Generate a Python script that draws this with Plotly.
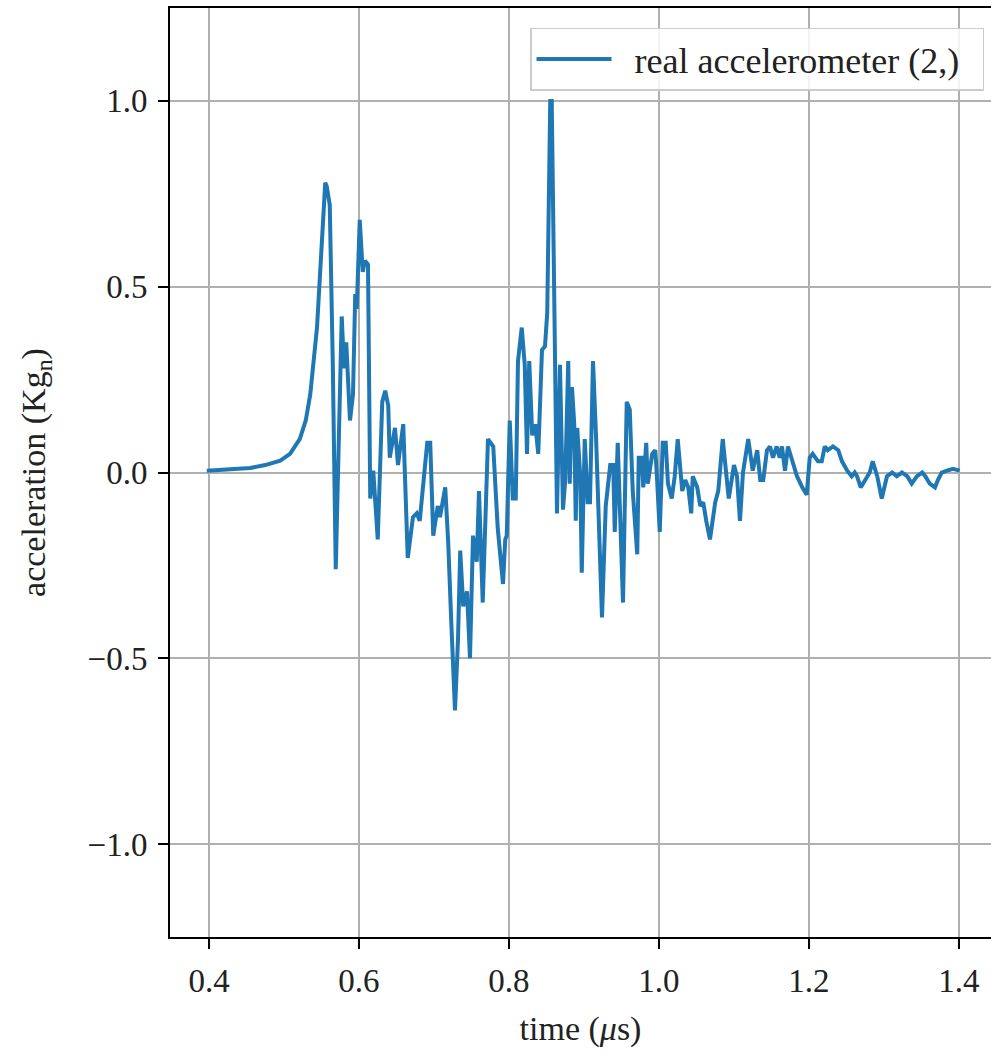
import plotly.graph_objects as go

# time (µs) and acceleration (Kg_n)
time_us = [
    0.397, 0.428, 0.455, 0.475, 0.495, 0.508, 0.521, 0.529, 0.535, 0.544,
    0.551, 0.555, 0.557, 0.561, 0.565, 0.569, 0.577, 0.580, 0.583, 0.588,
    0.592, 0.595, 0.597, 0.601, 0.605, 0.608, 0.612, 0.615, 0.619, 0.623,
    0.625, 0.631, 0.635, 0.639, 0.641, 0.648, 0.652, 0.659, 0.665, 0.672,
    0.677, 0.681, 0.691, 0.695, 0.699, 0.705, 0.708, 0.715, 0.719, 0.723,
    0.728, 0.732, 0.735, 0.739, 0.744, 0.748, 0.752, 0.757, 0.760, 0.765,
    0.772, 0.779, 0.785, 0.792, 0.795, 0.797, 0.801, 0.805, 0.809, 0.812,
    0.817, 0.821, 0.824, 0.827, 0.831, 0.835, 0.839, 0.844, 0.848, 0.851,
    0.855, 0.857, 0.860, 0.864, 0.868, 0.872, 0.875, 0.879, 0.881, 0.884,
    0.887, 0.889, 0.891, 0.895, 0.897, 0.901, 0.905, 0.908, 0.912, 0.916,
    0.924, 0.929, 0.935, 0.939, 0.941, 0.945, 0.952, 0.957, 0.961, 0.965,
    0.971, 0.973, 0.977, 0.979, 0.983, 0.985, 0.991, 0.995, 0.997, 1.001,
    1.005, 1.009, 1.012, 1.017, 1.021, 1.025, 1.031, 1.035, 1.039, 1.043,
    1.045, 1.051, 1.055, 1.059, 1.063, 1.068, 1.075, 1.079, 1.085, 1.091,
    1.093, 1.100, 1.104, 1.108, 1.112, 1.119, 1.125, 1.131, 1.135, 1.139,
    1.144, 1.148, 1.152, 1.157, 1.161, 1.164, 1.168, 1.172, 1.177, 1.184,
    1.191, 1.197, 1.201, 1.205, 1.212, 1.217, 1.221, 1.225, 1.232, 1.239,
    1.244, 1.251, 1.257, 1.261, 1.264, 1.269, 1.275, 1.281, 1.285, 1.291,
    1.297, 1.304, 1.311, 1.317, 1.324, 1.331, 1.337, 1.344, 1.351, 1.355,
    1.361, 1.368, 1.372, 1.377, 1.384, 1.392, 1.401,
]
accel = [
    0.005, 0.008, 0.012, 0.020, 0.032, 0.050, 0.090, 0.140, 0.210, 0.390,
    0.660, 0.780, 0.770, 0.720, 0.300, -0.260, 0.420, 0.280, 0.350, 0.140,
    0.210, 0.480, 0.440, 0.680, 0.540, 0.570, 0.560, -0.070, 0.005, -0.100,
    -0.180, 0.190, 0.220, 0.180, 0.040, 0.120, 0.020, 0.130, -0.230, -0.120,
    -0.110, -0.130, 0.080, 0.080, -0.170, -0.090, -0.120, -0.040, -0.190, -0.400,
    -0.640, -0.450, -0.210, -0.360, -0.320, -0.500, -0.170, -0.240, -0.050, -0.350,
    0.090, 0.070, -0.150, -0.300, -0.180, -0.170, 0.140, -0.070, -0.070, 0.300,
    0.390, 0.290, 0.050, 0.300, 0.100, 0.130, 0.050, 0.330, 0.340, 0.430,
    1.000, 1.000, 0.550, -0.110, 0.290, -0.100, -0.020, 0.300, -0.030, 0.230,
    0.130, -0.130, 0.120, -0.010, -0.270, 0.090, -0.080, -0.080, 0.300, 0.100,
    -0.390, -0.090, 0.020, 0.020, -0.160, 0.080, -0.350, 0.190, 0.170, -0.050,
    -0.220, 0.040, 0.040, -0.040, 0.080, -0.030, 0.050, 0.060, 0.000, -0.160,
    0.080, 0.080, -0.030, -0.070, -0.010, 0.090, -0.050, -0.020, -0.040, -0.110,
    -0.010, -0.040, -0.090, -0.080, -0.130, -0.180, -0.080, -0.050, 0.090, -0.030,
    -0.070, 0.020, -0.010, -0.130, 0.000, 0.090, 0.005, 0.060, -0.020, -0.020,
    0.060, 0.070, 0.040, 0.070, 0.040, 0.070, 0.005, 0.070, 0.040, -0.010,
    -0.040, -0.060, 0.040, 0.050, 0.030, 0.030, 0.070, 0.060, 0.070, 0.060,
    0.030, 0.005, -0.010, 0.000, -0.010, -0.040, -0.020, 0.000, 0.030, -0.010,
    -0.070, -0.010, 0.000, -0.010, 0.000, -0.010, -0.030, -0.010, 0.000, -0.010,
    -0.030, -0.040, -0.020, 0.000, 0.005, 0.010, 0.005,
]

x_ticks = [0.4, 0.6, 0.8, 1.0, 1.2, 1.4]
y_ticks = [-1.0, -0.5, 0.0, 0.5, 1.0]

FONT = "Liberation Serif, Times New Roman, serif"
NB = "\u00a0"

fig = go.Figure()
fig.add_trace(go.Scatter(
    x=time_us, y=accel, mode="lines",
    name=NB * 2 + "real accelerometer (2,)" + NB * 2,
    line=dict(color="#1f77b4", width=4),
))

axis_common = dict(
    showgrid=True, gridcolor="#b0b0b0", gridwidth=1.5,
    showline=True, linecolor="black", linewidth=2,
    ticks="outside", ticklen=10, tickwidth=1.5, tickcolor="black",
    tickfont=dict(family=FONT, size=33, color="#222"),
    zeroline=False, automargin=False,
)

fig.update_layout(
    width=991, height=1057,
    margin=dict(l=170, r=0, t=8, b=120),
    paper_bgcolor="white", plot_bgcolor="white",
    font=dict(family=FONT, size=33, color="#222"),
    xaxis=dict(range=[0.348, 1.4427], tickvals=x_ticks, tickformat=".1f",
               mirror=True, ticklabelstandoff=3,
               title=dict(text="time (<i>μ</i>s)", font=dict(family=FONT, size=34), standoff=19),
               **axis_common),
    yaxis=dict(range=[-1.25, 1.25], tickvals=y_ticks, tickformat=".1f",
               ticklabelstandoff=4,
               title=dict(text="acceleration (Kg<sub>n</sub>)", font=dict(family=FONT, size=34), standoff=32),
               **axis_common),
    legend=dict(x=0.9915, y=0.979, xanchor="right", yanchor="top",
                bgcolor="rgba(255,255,255,0.85)", bordercolor="#cccccc", borderwidth=1.5,
                font=dict(family=FONT, size=36, color="#222"), itemwidth=75),
    showlegend=True,
)

fig.write_html("out.html",
               config={"displayModeBar": False},
               post_script="document.body.style.margin='0';document.body.style.overflow='hidden';")
